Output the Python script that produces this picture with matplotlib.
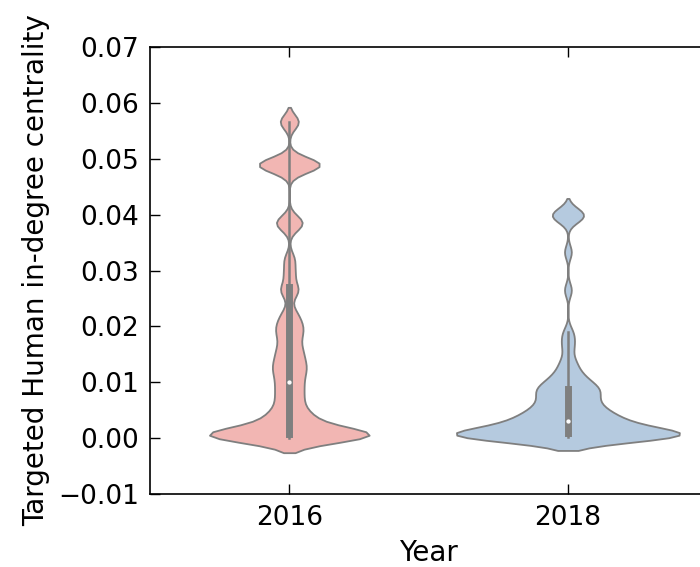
import numpy as np
import pandas as pd
import matplotlib
matplotlib.use("Agg")
import matplotlib.pyplot as plt
from matplotlib.ticker import MultipleLocator
import seaborn as sns

# valores (valor, quantidade de nos)
years = ["2016", "2018"]

vals_2016 = [0.0, 0.0008, 0.002, 0.003, 0.004,
             0.005, 0.006, 0.007, 0.008, 0.009, 0.010, 0.011, 0.012, 0.0127,
             0.0135, 0.0145, 0.0155, 0.0165, 0.018, 0.019, 0.020, 0.021,
             0.0225, 0.026, 0.027, 0.0295, 0.032, 0.038, 0.0385, 0.039,
             0.0485, 0.0492, 0.0566]
cnt_2016 = [7, 10, 2, 2, 2,
            1, 1, 1, 1, 1, 1, 1, 1, 1,
            1, 1, 1, 1, 1, 1, 1, 1,
            1, 1, 1, 1, 1, 1, 1, 1,
            3, 4, 2]

vals_2018 = [0.0002, 0.001, 0.002, 0.003, 0.004, 0.005, 0.006, 0.007,
             0.008, 0.009, 0.010, 0.011, 0.012, 0.013, 0.014, 0.016,
             0.0175, 0.019, 0.0265, 0.0333, 0.0395, 0.0405]
cnt_2018 = [20, 10, 7, 6, 5, 4, 3, 3,
            3, 4, 2, 2, 1, 1, 1, 1,
            1, 1, 1, 1, 3, 2]

cores = ["#f2b6b3", "#b5cadf"]
# largura do kernel de cada ano
bw_ano = {"2016": 0.0013, "2018": 0.0012}


def banda(k):
    # 2016 e o unico grupo com valores acima de 0.05
    ano = "2016" if k.dataset.max() > 0.05 else "2018"
    return bw_ano[ano] / np.std(k.dataset, ddof=1)


def main():
    y16 = np.repeat(vals_2016, cnt_2016)
    y18 = np.repeat(vals_2018, cnt_2018)
    df = pd.DataFrame({
        "Year": [years[0]] * len(y16) + [years[1]] * len(y18),
        "valor": np.concatenate([y16, y18]),
    })

    plt.rcParams["font.family"] = "DejaVu Sans"

    fig = plt.figure(figsize=(7, 5.67), dpi=100)
    ax = fig.add_axes([0.2143, 0.1287, 0.796, 0.7884])

    sns.violinplot(data=df, x="Year", y="valor", hue="Year", order=years,
                   hue_order=years, palette=cores, saturation=1, legend=False,
                   bw_method=banda, cut=2, inner="box", linecolor="#7f7f7f",
                   linewidth=1.3, density_norm="area", common_norm=True,
                   width=0.8,
                   inner_kws=dict(box_width=5, whis_width=1.8, marker="."),
                   ax=ax)

    ax.set_xlim(-0.5, 1.5)
    ax.set_ylim(-0.01, 0.07)
    ax.yaxis.set_major_locator(MultipleLocator(0.01))
    ax.set_xlabel("Year", fontsize=20, labelpad=6)
    ax.set_ylabel("Targeted Human in-degree centrality", fontsize=20, labelpad=6)
    ax.tick_params(direction="in", length=7, width=1, top=True, right=False,
                   labelsize=19, pad=8)
    for s in ax.spines.values():
        s.set_linewidth(1.2)
        s.set_color("black")

    fig.savefig("out.png", dpi=100)


main()
